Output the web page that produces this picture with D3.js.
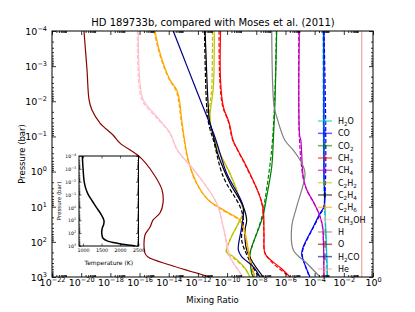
<!DOCTYPE html>
<html>
<head>
<meta charset="utf-8">
<script src="https://cdn.jsdelivr.net/npm/d3@7"></script>
<style>
body { margin: 0; background: white; }
text { font-family: "DejaVu Sans", sans-serif; }
</style>
</head>
<body>
<script>
//species in legend order, with their colours
var species = ["H2O","CO","CO2","CH3","CH4","C2H2","C2H4","C2H6","CH3OH","H","O","H2CO","He"];
var colors = ["#00bfbf","#0000ff","#008000","#ff0000","#bf00bf","#bfbf00","#000000","#ffa500","#ffc0cb","#808080","#8b0000","#000080","#f9a0a0"];

//this work (solid lines): [log10 pressure (bar), log10 mixing ratio]
var h2o = [[-4,-3.40],[-2,-3.38],[0,-3.36],[1,-3.30],[2,-3.20],[3,-3.12]];
var co = [[-4,-3.36],[0,-3.36],[1.0,-3.36],[1.19,-3.63],[1.57,-4.09],[2.14,-4.78],[2.33,-4.89],[2.52,-4.78],[3.0,-4.32]];
var co2 = [[-4,-6.60],[-1.95,-6.72],[-0.9,-6.83],[-0.14,-6.94],[0.81,-7.33],[1.28,-7.55],[2.14,-8.31],[2.33,-8.43],[2.9,-8.31],[3.0,-8.20]];
var ch3 = [[-4,-10.45],[-2.6,-10.45],[-1.85,-10.26],[-1.38,-9.85],[-0.9,-9.6],[-0.6,-9.25],[-0.14,-8.66],[0.72,-7.74],[1.09,-7.52],[1.76,-7.47],[2.33,-7.40],[2.52,-7.0],[2.75,-6.3],[3.0,-5.69]];
var ch4 = [[-4,-5.05],[-1,-5.02],[-0.9,-4.95],[0.15,-4.78],[0.52,-4.54],[0.95,-3.97],[1.28,-3.63],[1.57,-3.45],[1.95,-3.40],[3.0,-3.36]];
var c2h2 = [[-4,-10.88],[-2.41,-10.94],[-1.56,-11.17],[-1.18,-11.05],[-0.9,-10.83],[-0.52,-10.49],[0.05,-9.80],[0.81,-9.11],[1.14,-8.89],[1.47,-9.23],[1.95,-9.80],[2.28,-10.03],[2.42,-9.57],[2.75,-8.77],[3.0,-8.43]];
var c2h4 = [[-4,-11.51],[-3.37,-11.45],[-2.41,-11.36],[-1.85,-11.29],[-1.47,-11.22],[-1.10,-10.99],[-0.61,-10.71],[-0.33,-10.49],[0.33,-9.80],[1.0,-8.89],[1.38,-8.66],[1.66,-8.77],[2.23,-8.66],[2.61,-8.20],[3.0,-7.52]];
var c2h6 = [[-4,-14.94],[-3.55,-14.71],[-3.08,-14.37],[-2.61,-13.91],[-2.32,-13.45],[-2.04,-13.27],[-1.47,-13.11],[-0.9,-12.92],[-0.33,-12.66],[0.33,-12.08],[0.81,-11.29],[1.09,-10.26],[1.38,-9.11],[1.57,-8.89],[1.95,-8.66],[2.52,-8.43],[3.0,-8.09]];
var ch3oh = [[-4,-16.09],[-2.52,-15.97],[-2.04,-15.74],[-1.56,-14.82],[-1.10,-13.91],[-0.61,-13.4],[0.05,-12.08],[0.90,-10.71],[1.57,-10.26],[2.42,-9.8],[2.52,-9.68],[3.0,-8.9]];
var h = [[-4,-6.94],[-1.85,-6.78],[-1.56,-6.60],[-0.9,-6.05],[-0.6,-5.45],[-0.33,-5.0],[0.05,-4.66],[1.0,-5.23],[1.57,-5.57],[2.23,-5.46],[2.61,-4.54],[3.0,-3.63]];
var o = [[-4,-19.81],[-2.89,-19.6],[-2.04,-19.46],[-1.75,-19.26],[-1.38,-18.71],[-1.04,-17.82],[-0.81,-17.34],[-0.41,-15.97],[0.04,-15.08],[0.52,-14.46],[0.89,-14.39],[1.18,-14.6],[1.38,-15.08],[1.58,-15.28],[1.81,-15.63],[2.32,-15.63],[2.43,-15.42],[2.66,-13.91],[3.0,-11.17]];
var h2co = [[-4,-13.69],[-3,-12.75],[-2,-11.8],[-1,-10.85],[0.05,-10.03],[1.0,-8.89],[1.57,-9.0],[2.23,-9.23],[2.42,-9.0],[2.71,-8.2],[3.0,-7.74]];
var he = [[-4,-0.77],[3,-0.77]];

//Moses et al. (2011) (dashed lines), same units
var moses_h2o = [[-4,-3.42],[0,-3.38],[1,-3.32],[2,-3.22],[3,-3.14]];
var moses_co = [[-4,-3.36],[1.0,-3.37],[1.2,-3.6],[1.6,-4.1],[2.15,-4.75],[2.35,-4.85],[2.55,-4.75],[3,-4.35]];
var moses_co2 = [[-4,-6.62],[-2,-6.74],[-0.6,-6.95],[0.8,-7.4],[1.3,-7.62],[2.15,-8.3],[2.35,-8.42],[3,-8.22]];
var moses_ch3 = [[-4,-10.55],[-2.6,-10.5],[-1.85,-10.3],[-1.4,-9.9],[-0.9,-9.62],[-0.6,-9.27],[-0.1,-8.65],[0.7,-7.76],[1.1,-7.54],[1.8,-7.48],[2.3,-7.42],[2.55,-7.0],[3,-5.7]];
var moses_ch4 = [[-4,-5.08],[-1,-5.05],[0.15,-4.8],[0.5,-4.56],[0.95,-3.98],[1.3,-3.62],[1.6,-3.45],[2,-3.4],[3,-3.36]];
var moses_c2h2 = [[-4,-11.0],[-2.4,-11.05],[-1.6,-11.22],[-1.2,-11.08],[-0.9,-10.86],[-0.5,-10.5],[0.05,-9.82],[0.8,-9.12],[1.15,-8.9],[1.5,-9.25],[1.95,-9.82],[2.3,-10.05],[2.45,-9.6],[2.75,-8.8],[3,-8.45]];
var moses_c2h4 = [[-4,-11.55],[-3,-11.5],[-2,-11.42],[-1.5,-11.32],[-1.1,-11.1],[-0.9,-10.94],[0.15,-10.26],[1.0,-9.11],[1.38,-8.89],[1.95,-9.0],[2.5,-8.5],[2.9,-7.97],[3,-7.8]];
var moses_c2h6 = [[-4,-15.0],[-3.55,-14.76],[-3.08,-14.42],[-2.61,-13.95],[-2.3,-13.5],[-2,-13.32],[-1.5,-13.17],[-0.9,-12.95],[-0.35,-12.7],[0.33,-12.1],[0.8,-11.3],[1.1,-10.3],[1.4,-9.12],[1.6,-8.9],[1.95,-8.68],[2.5,-8.45],[3,-8.1]];
var moses_ch3oh = [[-4,-16.15],[-2.5,-16.05],[-2,-15.8],[-1.55,-14.88],[-1.1,-13.95],[-0.6,-13.4],[0.05,-12.1],[0.9,-10.72],[1.57,-10.28],[2.42,-9.82],[3,-8.92]];

var solid = [h2o, co, co2, ch3, ch4, c2h2, c2h4, c2h6, ch3oh, h, o, h2co, he];
var dashed = [moses_h2o, moses_co, moses_co2, moses_ch3, moses_ch4, moses_c2h2, moses_c2h4, moses_c2h6, moses_ch3oh, null, null, null, null];

//temperature profile for the inset: [log10 pressure (bar), T (K)]
var tp = [[-4,980],[-3,1000],[-2,1030],[-1.5,1070],[-1,1140],[-0.5,1250],[0,1360],[0.5,1480],[1,1565],[1.3,1560],[1.6,1520],[2,1505],[2.4,1540],[2.6,1650],[2.8,1950],[2.95,2300],[3,2420]];

//tick values
var xMajor = [1e-22,1e-20,1e-18,1e-16,1e-14,1e-12,1e-10,1e-8,1e-6,1e-4,1e-2,1];
var yMajor = [1e-4,1e-3,1e-2,1e-1,1,1e1,1e2,1e3];
var tTicks = [1000,1500,2000,2500];

var box = {left: 52, right: 373, top: 31, bottom: 277};
var ibox = {left: 79, right: 138.5, top: 156, bottom: 246};

var svg = d3.select("body").append("svg")
	.attr("width", 415)
	.attr("height", 312);

var x = d3.scaleLog().domain([1e-22, 1]).range([box.left, box.right]);
var y = d3.scaleLog().domain([1e-4, 1e3]).range([box.top, box.bottom]);

//minor ticks 2..9 in each decade
var minorOf = function(majors){
	var out = [];
	majors.forEach(function(m){
		for (var k = 2; k < 10; k++){ out.push(m * k); }
	});
	return out;
};

//writes 10^n as text with a raised exponent
var powerLabel = function(sel, supSize, rise){
	sel.each(function(d){
		var t = d3.select(this).text(null);
		var e = Math.round(Math.log10(d));
		t.append("tspan").text("10");
		t.append("tspan")
			.attr("dy", -rise)
			.attr("font-size", supSize)
			.text(e < 0 ? "\u2212" + (-e) : String(e));
	});
};

//splits a formula so digits become subscripts
var formula = function(sel, name, size){
	var parts = name.match(/[0-9]+|[^0-9]+/g);
	var shifted = false;
	parts.forEach(function(p){
		var isSub = /[0-9]/.test(p);
		var ts = sel.append("tspan").text(p);
		if (isSub){
			ts.attr("font-size", size * 0.7).attr("dy", shifted ? 0 : 2);
			shifted = true;
		} else if (shifted){
			ts.attr("dy", -2);
			shifted = false;
		}
	});
};

//d3 sets its own font on axis groups, so this runs after .call
var styleAxis = function(g, size){
	g.select(".domain").remove();
	g.selectAll(".tick line").attr("stroke", "black").attr("stroke-width", 0.8);
	g.attr("font-family", "DejaVu Sans").attr("font-size", size || 9.5).attr("fill", "black");
};

//clip for the curves
svg.append("clipPath").attr("id", "plotclip")
	.append("rect")
	.attr("x", box.left).attr("y", box.top)
	.attr("width", box.right - box.left).attr("height", box.bottom - box.top);

var line = d3.line()
	.x(function(d){ return x(Math.pow(10, d[1])); })
	.y(function(d){ return y(Math.pow(10, d[0])); })
	.curve(d3.curveCatmullRom.alpha(0.5));

var curves = svg.append("g").attr("clip-path", "url(#plotclip)");

species.forEach(function(s, i){
	curves.append("path")
		.attr("d", line(solid[i]))
		.attr("fill", "none")
		.attr("stroke", colors[i])
		.attr("stroke-width", 1.2);
	if (dashed[i]){
		curves.append("path")
			.attr("d", line(dashed[i]))
			.attr("fill", "none")
			.attr("stroke", colors[i])
			.attr("stroke-width", 1.2)
			.attr("stroke-dasharray", "4,2");
	}
});

//axes, ticks pointing inward
var gxb = svg.append("g").attr("transform", "translate(0," + box.bottom + ")")
	.call(d3.axisBottom(x).tickValues(xMajor).tickSize(-4).tickSizeOuter(0).tickFormat(""));
styleAxis(gxb, 9.5);
gxb.selectAll(".tick text").attr("y", 8.5).attr("dy", 0).attr("fill", "black").call(powerLabel, 6.5, 4);

var gxbm = svg.append("g").attr("transform", "translate(0," + box.bottom + ")")
	.call(d3.axisBottom(x).tickValues(minorOf(xMajor.slice(0, -1))).tickSize(-2).tickSizeOuter(0).tickFormat(""));
styleAxis(gxbm);

var gxt = svg.append("g").attr("transform", "translate(0," + box.top + ")")
	.call(d3.axisTop(x).tickValues(xMajor).tickSize(-4).tickSizeOuter(0).tickFormat(""));
styleAxis(gxt);
var gxtm = svg.append("g").attr("transform", "translate(0," + box.top + ")")
	.call(d3.axisTop(x).tickValues(minorOf(xMajor.slice(0, -1))).tickSize(-2).tickSizeOuter(0).tickFormat(""));
styleAxis(gxtm);

var gyl = svg.append("g").attr("transform", "translate(" + box.left + ",0)")
	.call(d3.axisLeft(y).tickValues(yMajor).tickSize(-4).tickSizeOuter(0).tickFormat(""));
styleAxis(gyl, 9.5);
gyl.selectAll(".tick text").attr("x", -5).attr("dy", "0.35em").attr("fill", "black").call(powerLabel, 6.5, 4);

var gylm = svg.append("g").attr("transform", "translate(" + box.left + ",0)")
	.call(d3.axisLeft(y).tickValues(minorOf(yMajor.slice(0, -1))).tickSize(-2).tickSizeOuter(0).tickFormat(""));
styleAxis(gylm);

var gyr = svg.append("g").attr("transform", "translate(" + box.right + ",0)")
	.call(d3.axisRight(y).tickValues(yMajor).tickSize(-4).tickSizeOuter(0).tickFormat(""));
styleAxis(gyr);
var gyrm = svg.append("g").attr("transform", "translate(" + box.right + ",0)")
	.call(d3.axisRight(y).tickValues(minorOf(yMajor.slice(0, -1))).tickSize(-2).tickSizeOuter(0).tickFormat(""));
styleAxis(gyrm);

//frame
svg.append("rect")
	.attr("x", box.left).attr("y", box.top)
	.attr("width", box.right - box.left).attr("height", box.bottom - box.top)
	.attr("fill", "none").attr("stroke", "black").attr("stroke-width", 1);

//titles
svg.append("text")
	.attr("x", 213).attr("y", 26)
	.attr("text-anchor", "middle").attr("font-size", 10)
	.text("HD 189733b, compared with Moses et al. (2011)");

svg.append("text")
	.attr("x", 212.5).attr("y", 303)
	.attr("text-anchor", "middle").attr("font-size", 8.5)
	.text("Mixing Ratio");

svg.append("text")
	.attr("transform", "translate(25," + ((box.top + box.bottom) / 2) + ") rotate(-90)")
	.attr("text-anchor", "middle").attr("font-size", 8.5)
	.text("Pressure (bar)");

//legend, no frame
var legend = svg.append("g");
species.forEach(function(s, i){
	var ly = 121 + 12.33 * i;
	var item = legend.append("g").attr("transform", "translate(0," + ly + ")");
	var handle = item.append("g").attr("opacity", 0.6).attr("stroke", colors[i]).attr("stroke-width", 1.5);
	handle.append("line").attr("x1", 318).attr("x2", 332).attr("y1", 0).attr("y2", 0);
	handle.append("line").attr("x1", 325).attr("x2", 325).attr("y1", -3.5).attr("y2", 3.5);
	var label = item.append("text").attr("x", 338).attr("y", 3).attr("font-size", 8);
	formula(label, s, 8);
});

//inset with the temperature profile
var ix = d3.scaleLinear().domain([890, 2500]).range([ibox.left, ibox.right]);
var iy = d3.scaleLog().domain([1e-4, 1e3]).range([ibox.top, ibox.bottom]);

var inset = svg.append("g");
inset.append("rect")
	.attr("x", ibox.left).attr("y", ibox.top)
	.attr("width", ibox.right - ibox.left).attr("height", ibox.bottom - ibox.top)
	.attr("fill", "white");

var tline = d3.line()
	.x(function(d){ return ix(d[1]); })
	.y(function(d){ return iy(Math.pow(10, d[0])); })
	.curve(d3.curveCatmullRom.alpha(0.5));

inset.append("path")
	.attr("d", tline(tp))
	.attr("fill", "none").attr("stroke", "black").attr("stroke-width", 1.5);

var ixb = inset.append("g").attr("transform", "translate(0," + ibox.bottom + ")")
	.call(d3.axisBottom(ix).tickValues(tTicks).tickSize(-2.5).tickSizeOuter(0).tickFormat(d3.format("d")));
styleAxis(ixb, 4.8);
ixb.selectAll(".tick text").attr("y", 3).attr("dy", "0.71em").attr("fill", "black");

var ixt = inset.append("g").attr("transform", "translate(0," + ibox.top + ")")
	.call(d3.axisTop(ix).tickValues(tTicks).tickSize(-2.5).tickSizeOuter(0).tickFormat(""));
styleAxis(ixt);

var iyl = inset.append("g").attr("transform", "translate(" + ibox.left + ",0)")
	.call(d3.axisLeft(iy).tickValues(yMajor).tickSize(-2.5).tickSizeOuter(0).tickFormat(""));
styleAxis(iyl, 4.6);
iyl.selectAll(".tick text").attr("x", -3).attr("dy", "0.35em").attr("fill", "black").call(powerLabel, 3.3, 2);

var iylm = inset.append("g").attr("transform", "translate(" + ibox.left + ",0)")
	.call(d3.axisLeft(iy).tickValues(minorOf(yMajor.slice(0, -1))).tickSize(-1.3).tickSizeOuter(0).tickFormat(""));
styleAxis(iylm);
var iyr = inset.append("g").attr("transform", "translate(" + ibox.right + ",0)")
	.call(d3.axisRight(iy).tickValues(yMajor).tickSize(-2.5).tickSizeOuter(0).tickFormat(""));
styleAxis(iyr);
var iyrm = inset.append("g").attr("transform", "translate(" + ibox.right + ",0)")
	.call(d3.axisRight(iy).tickValues(minorOf(yMajor.slice(0, -1))).tickSize(-1.3).tickSizeOuter(0).tickFormat(""));
styleAxis(iyrm);

inset.selectAll(".tick line").attr("stroke-width", 0.6);

inset.append("rect")
	.attr("x", ibox.left).attr("y", ibox.top)
	.attr("width", ibox.right - ibox.left).attr("height", ibox.bottom - ibox.top)
	.attr("fill", "none").attr("stroke", "black").attr("stroke-width", 1);

inset.append("text")
	.attr("x", (ibox.left + ibox.right) / 2).attr("y", 265)
	.attr("text-anchor", "middle").attr("font-size", 6)
	.text("Temperature (K)");

inset.append("text")
	.attr("transform", "translate(61," + ((ibox.top + ibox.bottom) / 2) + ") rotate(-90)")
	.attr("text-anchor", "middle").attr("font-size", 5.5)
	.text("Pressure (bar)");
</script>
</body>
</html>
